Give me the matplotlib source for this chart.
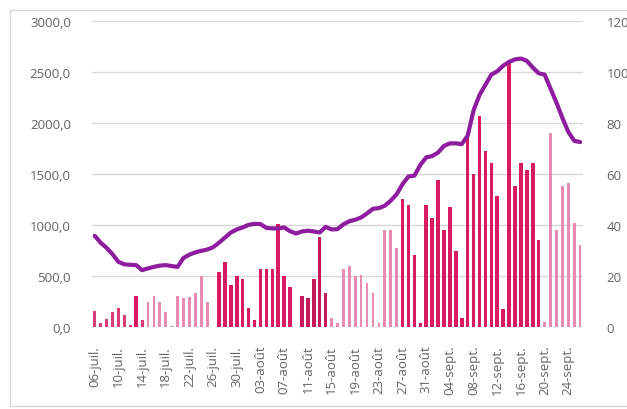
import datetime as dt
import numpy as np
import matplotlib
matplotlib.use("Agg")
import matplotlib.pyplot as plt
from matplotlib.patches import Rectangle

# Daily values, 06-juil. -> 26-sept.
start = dt.date(2020, 7, 6)
n_days = 83

bars = [150, 36, 72, 141, 187, 115, 16, 306, 69, 246,
        306, 246, 148, 10, 306, 279, 293, 332, 493, 246,
        0, 542, 634, 411, 493, 470, 187, 69, 569, 569,
        569, 1010, 493, 394, 0, 306, 279, 470, 881, 329,
        85, 36, 569, 595, 493, 509, 434, 332, 36, 947,
        947, 772, 1252, 1193, 700, 40, 1193, 1065, 1440, 947,
        1177, 740, 82, 1867, 1499, 2064, 1726, 1604, 1282, 174,
        2590, 1384, 1604, 1538, 1604, 855, 43, 1900, 947, 1384,
        1410, 1022, 799]

# rolling average (right axis)
line = [35.7, 33, 31, 28.5, 25.5, 24.5, 24.3, 24.2, 22.2, 22.9,
        23.5, 24, 24.2, 23.8, 23.5, 27, 28.3, 29.2, 29.8, 30.3,
        31.2, 33, 35, 37, 38.2, 39, 40, 40.4, 40.3, 38.8,
        38.6, 38.6, 39, 37.5, 36.6, 37.4, 37.7, 37.4, 37, 39.2,
        38.2, 38.3, 40.2, 41.4, 42, 42.9, 44.5, 46.3, 46.6, 47.5,
        49.5, 52, 56, 59, 59.3, 63.5, 66.5, 67, 68.4, 71,
        72, 72, 71.7, 75, 85, 91, 95, 99, 100.3, 102.5,
        104, 105, 105.3, 104.4, 101.8, 99.5, 99, 93.5, 88, 82,
        76.5, 73, 72.5]

# shade of each bar: m = mid, c = crimson, d = dark, l = light
shade = ("mmmmmmmcml" "llllllllll" "lccccccccc"
         "cccccddddd" "llllllllll" "llcccccccc"
         "cccccccccc" "cccccclllll" "ll")
shade = shade[:n_days]

months = {7: "juil.", 8: "août", 9: "sept."}
dates = [start + dt.timedelta(days=i) for i in range(n_days)]
tick_idx = list(range(0, n_days, 4))
tick_labels = [f"{dates[i].day:02d}-{months[dates[i].month]}" for i in tick_idx]

colors = {"m": "#dc3d76", "c": "#d81b60", "d": "#c41a5c", "l": "#e78cb0"}
widths = {"m": 0.5, "c": 0.6, "d": 0.6, "l": 0.45}

txt = "#636363"
plt.rcParams["font.family"] = ["Open Sans", "DejaVu Sans"]

fig = plt.figure(figsize=(6.27, 4.10), dpi=100)
ax = fig.add_axes([0.1463, 0.2007, 0.7837, 0.7453])
ax2 = ax.twinx()

x = np.arange(n_days)
ax.bar(x, bars, width=[widths[s] for s in shade],
       color=[colors[s] for s in shade], zorder=2)
ax2.plot(x, line, color="#8e1c9e", lw=3, solid_capstyle="round", zorder=3)

ax.set_xlim(-0.5, n_days - 0.5)
ax.set_ylim(0, 3000)
ax2.set_ylim(0, 120)
ax.set_yticks(np.arange(0, 3001, 500))
ax.set_yticklabels([f"{v:.1f}".replace(".", ",") for v in np.arange(0, 3001, 500)])
ax2.set_yticks(np.arange(0, 121, 20))
ax.set_xticks(tick_idx)
ax.set_xticklabels(tick_labels, rotation=90)

ax.grid(axis="y", color="#d9d9d9", lw=1, zorder=0)
ax.set_axisbelow(True)
for a in (ax, ax2):
    for sp in a.spines.values():
        sp.set_visible(False)
    a.tick_params(length=0, colors=txt, labelsize=9.5)
ax.tick_params(axis="y", pad=15)
ax2.tick_params(axis="y", pad=17)
ax.tick_params(axis="x", pad=13)

fig.patches.append(Rectangle((10 / 627, 3 / 410), 1.0, 396 / 410,
                             transform=fig.transFigure, fill=False,
                             edgecolor="#d9d9d9", lw=1))

fig.savefig("out.png", dpi=100)
